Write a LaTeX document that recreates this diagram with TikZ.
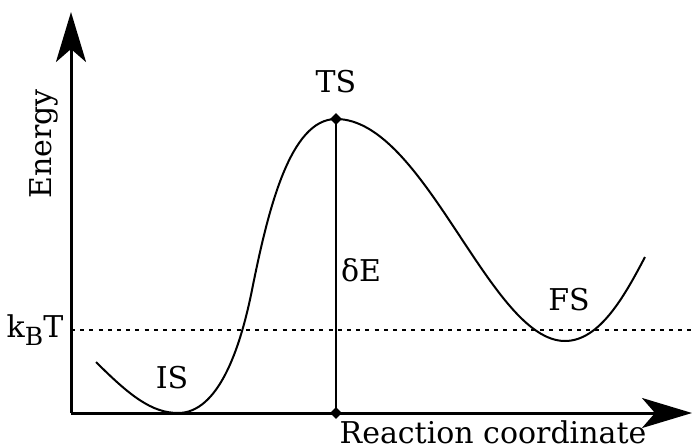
\documentclass[tikz,border=0pt]{standalone}
\usepackage{fontspec}
\setmainfont{DejaVu Serif}
\usepackage{tikz}
\usetikzlibrary{arrows.meta, shapes.geometric}

\begin{document}
\begin{tikzpicture}[
  x=0.5pt, y=-0.5pt,
  font=\fontsize{15}{18}\selectfont,
  axis/.style={line width=1.5pt, -{Stealth[length=25pt, width=15pt, inset=6.5pt]}},
  curve/.style={line width=1pt},
  level/.style={line width=0.7pt, dash pattern=on 2pt off 2.6pt},
  mark dot/.style={diamond, fill=black, inner sep=0pt, minimum size=6pt},
  lbl/.style={inner sep=0pt}
]
\useasboundingbox (0,0) rectangle (692,445);
\coordinate (origin) at (71,413);
\coordinate (ytip) at (71,12);
\coordinate (xtip) at (692,413);
\coordinate (start) at (96,362);
\coordinate (is) at (178,413);
\coordinate (rise) at (252,290);
\coordinate (fs) at (565,341);
\coordinate (stop) at (645,257);
\coordinate (kbl) at (71,330);
\coordinate (kbr) at (692,330);

\draw[level] (kbl) -- (kbr);
\draw[axis] (origin) -- (ytip);
\draw[axis] (origin) -- (xtip);

\node[mark dot] (ts) at (336,119) {};
\node[mark dot] (tsbase) at (336,413) {};
\draw[line width=0.8pt] (ts.center) -- (tsbase.center);

\draw[curve] (start) .. controls (130,396) and (152,413) .. (is)
  .. controls (218,413) and (240,350) .. (rise)
  .. controls (268,210) and (290,119) .. (ts.center)
  .. controls (425,119) and (490,341) .. (fs)
  .. controls (600,341) and (625,295) .. (stop);

\node[lbl] (tslbl) at (336,82) {TS};
\node[lbl] (islbl) at (172,378) {IS};
\node[lbl] (fslbl) at (569,300) {FS};
\node[lbl] (delbl) at (361,270) {δE};
\node[lbl] (kblbl) at (35,330) {k\raisebox{-0.5ex}{\fontsize{12.5}{13}\selectfont B}T};
\node[lbl, rotate=90] (ylbl) at (44,144) {Energy};
\node[lbl] (xlbl) at (493,432) {Reaction coordinate};
\end{tikzpicture}
\end{document}
